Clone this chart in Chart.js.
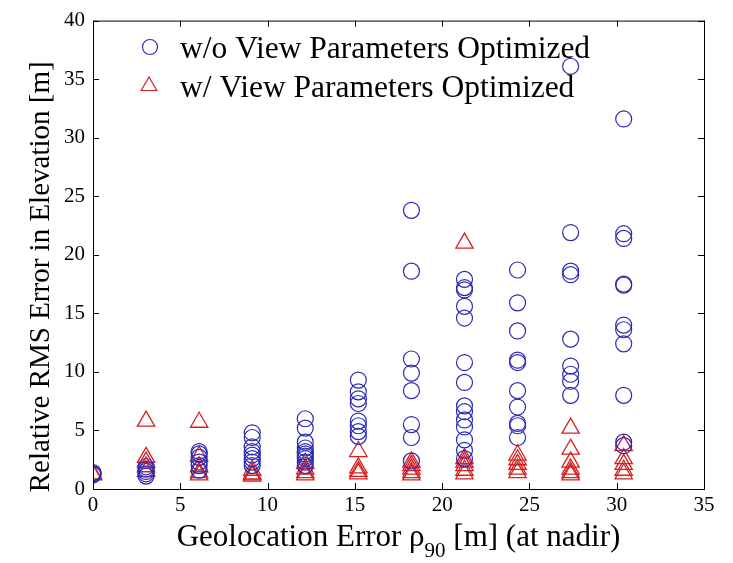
<!DOCTYPE html>
<html>
<head>
<meta charset="utf-8">
<script src="https://cdn.jsdelivr.net/npm/chart.js@4/dist/chart.umd.min.js"></script>
<style>
  html, body { margin:0; padding:0; background:#fff; }
  #wrap { width:733px; height:563px; }
</style>
</head>
<body>
<div id="wrap"><canvas id="c" width="733" height="563"></canvas></div>
<script>
// geolocation error levels (x) and the elevation errors measured at each level
const geoError = [0, 3.04, 6.08, 9.12, 12.16, 15.2, 18.24, 21.28, 24.32, 27.36, 30.4];

const withoutOpt = [
  [1.3, 1.4, 1.2],
  [1.9, 1.7, 1.5, 1.3, 1.1],
  [3.2, 3.0, 2.7, 2.3, 2.0, 1.6],
  [4.8, 4.4, 3.6, 3.2, 2.9, 2.6, 2.3, 2.0],
  [6.0, 5.2, 4.0, 3.5, 3.2, 3.0, 2.8, 2.6, 2.3, 2.0],
  [9.3, 8.3, 7.7, 7.3, 5.8, 5.4, 4.9, 4.5],
  [23.8, 18.6, 11.1, 9.9, 8.4, 5.5, 4.4, 2.4],
  [17.9, 17.2, 17.0, 15.6, 14.6, 10.8, 9.1, 7.1, 6.6, 5.9, 5.3, 4.2, 3.3, 2.6],
  [18.7, 15.9, 13.5, 11.0, 10.8, 8.4, 7.0, 5.6, 5.4, 4.4],
  [36.1, 21.9, 18.6, 18.3, 12.8, 10.5, 9.8, 9.2, 8.0],
  [31.6, 21.8, 21.4, 17.5, 17.4, 14.0, 13.6, 12.4, 8.0, 4.0, 3.7]
];

const withOpt = [
  [1.2, 1.3],
  [5.8, 2.7, 2.3, 1.9, 1.5],
  [5.7, 2.8, 1.9, 1.4, 1.2],
  [1.6, 1.3, 1.2, 1.1],
  [2.2, 1.7, 1.4, 1.2],
  [3.2, 1.8, 1.5, 1.3],
  [2.3, 2.0, 1.7, 1.4, 1.2],
  [21.0, 2.6, 2.3, 2.0, 1.6, 1.3],
  [2.9, 2.5, 2.1, 1.7, 1.4],
  [5.2, 3.4, 2.3, 1.7, 1.4, 1.2],
  [3.7, 2.6, 2.1, 1.6, 1.3]
];

const seriesNames = ['w/o View Parameters Optimized', 'w/ View Parameters Optimized'];
const xTicks = [0, 5, 10, 15, 20, 25, 30, 35];
const yTicks = [0, 5, 10, 15, 20, 25, 30, 35, 40];

const BLUE = '#2a2ab4';
const RED = '#d82020';
const SERIF = '"Liberation Serif", "Times New Roman", serif';

function toPoints(cols){
  const pts = [];
  cols.forEach((vals, i) => vals.forEach(v => pts.push({x: geoError[i], y: v})));
  return pts;
}

// frame, inward ticks, legend and the x title with its subscript
const decor = {
  id: 'decor',
  afterDraw(chart){
    const {ctx, chartArea: a, scales: {x, y}} = chart;
    ctx.save();
    ctx.strokeStyle = '#000';
    ctx.lineWidth = 1;
    ctx.strokeRect(a.left + 0.5, a.top + 0.5, a.right - a.left, a.bottom - a.top);
    const tl = 6;
    ctx.beginPath();
    xTicks.forEach(v => {
      const px = Math.round(x.getPixelForValue(v)) + 0.5;
      ctx.moveTo(px, a.bottom); ctx.lineTo(px, a.bottom - tl);
      ctx.moveTo(px, a.top); ctx.lineTo(px, a.top + tl);
    });
    yTicks.forEach(v => {
      const py = Math.round(y.getPixelForValue(v)) + 0.5;
      ctx.moveTo(a.left, py); ctx.lineTo(a.left + tl, py);
      ctx.moveTo(a.right, py); ctx.lineTo(a.right - tl, py);
    });
    ctx.stroke();

    // legend
    ctx.lineWidth = 1.2;
    ctx.strokeStyle = BLUE;
    ctx.beginPath();
    ctx.arc(150, 47, 7.5, 0, Math.PI * 2);
    ctx.stroke();
    ctx.strokeStyle = RED;
    const r = 9, tx = 149, ty = 86;
    ctx.beginPath();
    ctx.moveTo(tx, ty - r);
    ctx.lineTo(tx + r * 0.866, ty + r * 0.5);
    ctx.lineTo(tx - r * 0.866, ty + r * 0.5);
    ctx.closePath();
    ctx.stroke();

    ctx.fillStyle = '#000';
    ctx.font = '31.5px ' + SERIF;
    ctx.textBaseline = 'alphabetic';
    ctx.textAlign = 'left';
    ctx.fillText(seriesNames[0], 180, 58);
    ctx.fillText(seriesNames[1], 180, 97);

    // x title: Geolocation Error ρ90 [m] (at nadir)
    const big = '31px ' + SERIF, small = '21px ' + SERIF;
    const p1 = 'Geolocation Error \u03c1', sub = '90', p2 = ' [m] (at nadir)';
    ctx.font = big; const w1 = ctx.measureText(p1).width, w3 = ctx.measureText(p2).width;
    ctx.font = small; const w2 = ctx.measureText(sub).width;
    let sx = (a.left + a.right) / 2 - (w1 + w2 + w3) / 2;
    const base = 546;
    ctx.font = big; ctx.fillText(p1, sx, base); sx += w1;
    ctx.font = small; ctx.fillText(sub, sx, base + 11); sx += w2;
    ctx.font = big; ctx.fillText(p2, sx, base);

    // y title
    ctx.translate(41, (a.top + a.bottom) / 2 + 22);
    ctx.rotate(-Math.PI / 2);
    ctx.textAlign = 'center';
    ctx.textBaseline = 'middle';
    ctx.font = '29px ' + SERIF;
    ctx.fillText('Relative RMS Error in Elevation [m]', 0, 0);
    ctx.restore();
  }
};

new Chart(document.getElementById('c'), {
  type: 'scatter',
  data: {
    datasets: [
      {label: seriesNames[0], data: toPoints(withoutOpt), pointStyle: 'circle', pointRadius: 8,
       borderColor: BLUE, backgroundColor: 'rgba(0,0,0,0)', pointBorderWidth: 1.2},
      {label: seriesNames[1], data: toPoints(withOpt), pointStyle: 'triangle', pointRadius: 10,
       borderColor: RED, backgroundColor: 'rgba(0,0,0,0)', pointBorderWidth: 1.3}
    ]
  },
  options: {
    responsive: false,
    animation: false,
    layout: {padding: {left: 0, right: 29, top: 15, bottom: 0}},
    plugins: {legend: {display: false}, tooltip: {enabled: false}},
    scales: {
      x: {
        type: 'linear', min: 0, max: 35,
        afterFit: s => { s.height = 74; },
        afterBuildTicks: s => { s.ticks = xTicks.map(v => ({value: v})); },
        grid: {display: false, drawTicks: false},
        border: {display: false},
        ticks: {color: '#000', font: {family: SERIF, size: 21}, padding: 4, maxRotation: 0}
      },
      y: {
        type: 'linear', min: 0, max: 40,
        afterFit: s => { s.width = 93; },
        afterBuildTicks: s => { s.ticks = yTicks.map(v => ({value: v})); },
        grid: {display: false, drawTicks: false},
        border: {display: false},
        ticks: {color: '#000', font: {family: SERIF, size: 21}, padding: 8}
      }
    }
  },
  plugins: [decor]
});
</script>
</body>
</html>
